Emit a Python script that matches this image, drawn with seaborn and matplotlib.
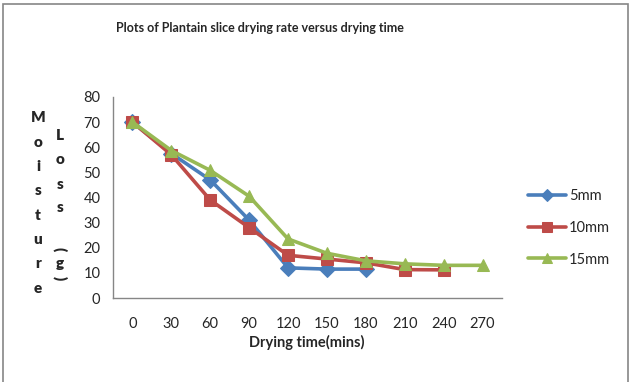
import numpy as np
import pandas as pd
import matplotlib
matplotlib.use("Agg")
import matplotlib.pyplot as plt
import seaborn as sns

times = [0, 30, 60, 90, 120, 150, 180, 210, 240, 270]
mm5 = [70, 57.5, 47, 31, 12, 11.5, 11.5, np.nan, np.nan, np.nan]
mm10 = [70, 57, 39, 28, 17, 15.5, 14, 11.3, 11.2, np.nan]
mm15 = [70, 58.7, 50.8, 40.5, 23.5, 17.8, 14.8, 13.6, 13, 13]
series_names = ["5mm", "10mm", "15mm"]
colors = ["#4A7EBB", "#BE4B48", "#98B954"]
markers = ["D", "s", "^"]

rows = []
for name, vals in zip(series_names, [mm5, mm10, mm15]):
    for t, v in zip(times, vals):
        rows.append({"time": t, "loss": v, "series": name})
df = pd.DataFrame(rows).dropna()

sns.set_style("white")
plt.rcParams["font.family"] = ["Lato", "DejaVu Sans"]

fig = plt.figure(figsize=(6.32, 3.82), dpi=100)
W, H = 632, 382
ax = fig.add_axes([113 / W, 1 - 298 / H, (502 - 113) / W, (298 - 97) / H])

sns.lineplot(data=df, x="time", y="loss", hue="series", style="series",
             hue_order=series_names, style_order=series_names,
             palette=colors, markers=markers, dashes=False,
             linewidth=2.6, markersize=9, legend=False, ax=ax)
for line, c in zip(ax.lines, colors):
    line.set_markeredgecolor(c)
    line.set_markerfacecolor(c)
ax.lines[0].set_markersize(8)

ax.set_xlim(-15, 285)
ax.set_ylim(0, 80)
ax.set_yticks(range(0, 81, 10))
ax.set_xticks(times)
ax.set_xticks([t - 15 for t in times] + [285], minor=True)
ax.tick_params(axis="x", which="major", length=0, pad=14, labelsize=10.5)
ax.tick_params(axis="x", which="minor", length=5, width=1, color="#868686", direction="out")
ax.tick_params(axis="y", length=5, width=1, color="#868686", direction="out", pad=4, labelsize=10.5)
ax.set_xlabel("")
ax.set_ylabel("")
for s in ["top", "right"]:
    ax.spines[s].set_visible(False)
for s in ["left", "bottom"]:
    ax.spines[s].set_color("#868686")
    ax.spines[s].set_linewidth(1)

fig.text(260 / W, 1 - 28 / H, "Plots of Plantain slice drying rate versus drying time",
         ha="center", va="center", fontsize=9, fontweight="bold")
fig.text(307 / W, 1 - 342 / H, "Drying time(mins)", ha="center", va="center",
         fontsize=10.5, fontweight="bold")

# stacked y label
word1 = "Moisture"
for i, ch in enumerate(word1):
    fig.text(38 / W, 1 - (118 + i * 24.3) / H, ch, ha="center", va="center",
             fontsize=11, fontweight="heavy")
word2 = ["L", "o", "s", "s", "(", "g", ")"]
ys2 = [135, 160, 184, 208, 249, 264, 278]
for ch, yy in zip(word2, ys2):
    rot = -90 if ch in "()" else 0
    fig.text(60 / W, 1 - yy / H, ch, ha="center", va="center", rotation=rot,
             fontsize=11, fontweight="heavy")

ax.legend(handles=ax.lines[:3], labels=series_names, loc="center left",
          bbox_to_anchor=(515 / W, 1 - 228 / H), bbox_transform=fig.transFigure,
          frameon=False, fontsize=10.5, handlelength=2.6, handletextpad=0.2,
          labelspacing=1.2, markerscale=0.8)

fig.add_artist(plt.Rectangle((3 / W, -0.05), (628 - 3) / W, 1 - 4 / H + 0.05,
                             transform=fig.transFigure, fill=False,
                             edgecolor="#868686", linewidth=1.2))

fig.savefig("out.png", dpi=100)
